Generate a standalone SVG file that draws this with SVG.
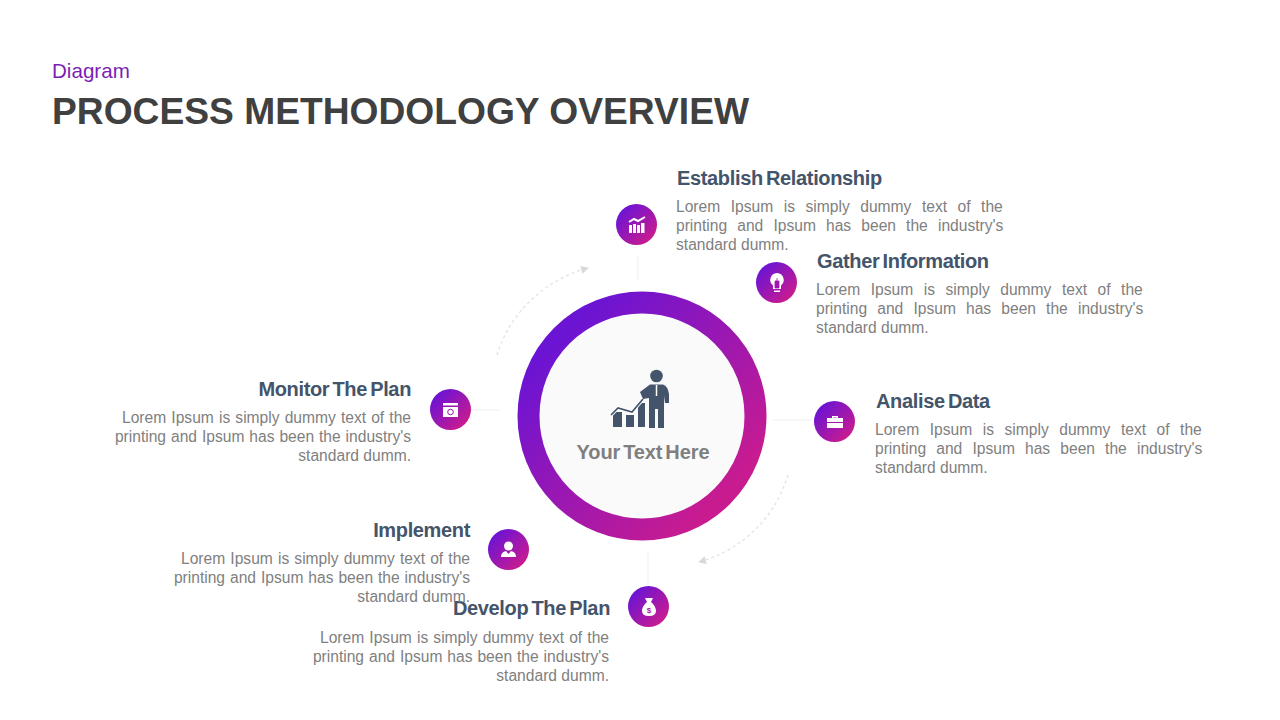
<svg xmlns="http://www.w3.org/2000/svg" width="1280" height="720" viewBox="0 0 1280 720">
<style>
text{font-family:"Liberation Sans",Arial,sans-serif}
.h{font-weight:700;font-size:20px;fill:#44546a;letter-spacing:-0.350px;word-spacing:-2px}
.b{font-size:15.6px;fill:#808080}
.e{text-anchor:end}
.w{fill:#fff}
.ws{fill:none;stroke:#fff}
.d{fill:#44546a}
.dc{fill:none;stroke:#e2e2e2;stroke-width:1.300;stroke-dasharray:3 3}
.l{fill:none;stroke:#f0f0f0;stroke-width:1}
</style>
<defs>
<linearGradient id="g" x1="0.15" y1="0.15" x2="0.85" y2="0.85"><stop offset="0" stop-color="#6c14d3"/><stop offset="1" stop-color="#c81b90"/></linearGradient>
<marker id="a" markerWidth="9" markerHeight="8" refX="7" refY="4" orient="auto" markerUnits="userSpaceOnUse"><path d="M0 0L8 4L0 8Z" fill="#d8d8d8"/></marker>
</defs>
<rect width="1280" height="720" fill="#fff"/>
<g id="title">
<text x="52" y="78" font-size="20.600" fill="#7a1fb4">Diagram</text>
<text x="52" y="124" font-size="37.200" font-weight="700" fill="#404040">PROCESS METHODOLOGY OVERVIEW</text>
</g>
<g id="connectors">
<path class="l" d="M638 255V281"/>
<path class="l" d="M470 410H500"/>
<path class="l" d="M772 420H812"/>
<path class="l" d="M648 552V585"/>
<path class="dc" marker-end="url(#a)" d="M497 355C510 312 545 280 588 268"/>
<path class="dc" marker-end="url(#a)" d="M788 475C775 518 742 550 699 562"/>
</g>
<g id="hub">
<circle cx="642" cy="416" r="113.500" fill="#fafafa" stroke="url(#g)" stroke-width="22"/>
<g id="hub-icon" class="d">
<circle cx="656.500" cy="376" r="6.300"/>
<path d="M640 392L650 384.500H663Q668 386 669 394L669 403H665L664 396V428H658V409H655V428H649V398L643 399Z"/>
<path d="M613 412H622V427H613ZM626 415H634V427H626ZM638 403H645V427H638Z"/>
<path d="M611 415L618 408L632 412L643 399" fill="none" stroke="#fff" stroke-width="3.500"/>
<path d="M611 415L618 408L632 412L643 399" fill="none" stroke="#44546a" stroke-width="1.700"/>
<path d="M656.500 385V396" stroke="#fff" stroke-width="1.500"/>
</g>
<text x="643" y="459" text-anchor="middle" font-size="20" font-weight="700" fill="#7f7f7f" letter-spacing="-0.100" word-spacing="-2.500">Your Text Here</text>
</g>
<g id="node-establish">
<circle cx="636.500" cy="224.500" r="20.500" fill="url(#g)"/>
<path class="w" d="M629 225h3v8h-3zM633 224h3v9h-3zM637 225h3v8h-3zM641 223h3.500v10h-3.500z"/>
<path class="ws" stroke-width="2" d="M629 222L634 219L638 221L645 217"/>
<text class="h" x="677" y="185">Establish Relationship</text>
<text class="b" x="676" y="212" word-spacing="6.200">Lorem Ipsum is simply dummy text of the</text>
<text class="b" x="676" y="231" word-spacing="5.800">printing and Ipsum has been the industry's</text>
<text class="b" x="676" y="250">standard dumm.</text>
</g>
<g id="node-gather">
<circle cx="776.500" cy="282.500" r="20.500" fill="url(#g)"/>
<path class="w" d="M777 273a7 7 0 0 1 4 12.500V289H773V285.500A7 7 0 0 1 777 273ZM774 290.500H780V292H774Z"/>
<path d="M777 278V288M775 281H779V288H775Z" fill="#a317ae" stroke="#a317ae" stroke-width="0.800"/>
<text class="h" x="817" y="268">Gather Information</text>
<text class="b" x="816" y="295" word-spacing="6.200">Lorem Ipsum is simply dummy text of the</text>
<text class="b" x="816" y="314" word-spacing="5.800">printing and Ipsum has been the industry's</text>
<text class="b" x="816" y="333">standard dumm.</text>
</g>
<g id="node-analise">
<circle cx="834.500" cy="421.500" r="20.500" fill="url(#g)"/>
<path class="w" d="M827 418H832V416H838V418H843V428H827ZM833.500 417.500V418H836.500V417.500Z"/>
<path d="M827 422.500H843" stroke="#a317ae" stroke-width="1"/>
<text class="h" x="876" y="408">Analise Data</text>
<text class="b" x="875" y="435" word-spacing="6.200">Lorem Ipsum is simply dummy text of the</text>
<text class="b" x="875" y="454" word-spacing="5.800">printing and Ipsum has been the industry's</text>
<text class="b" x="875" y="473">standard dumm.</text>
</g>
<g id="node-develop">
<circle cx="648.500" cy="606.500" r="20.500" fill="url(#g)"/>
<path class="w" d="M645 598H653L651 602C655 605 656 609 656 611Q656 616 649 616Q642 616 642 611C642 609 643 605 647 602Z"/>
<text x="649" y="613" text-anchor="middle" font-size="8" font-weight="700" fill="#a317ae">$</text>
<text class="h e" x="610" y="615">Develop The Plan</text>
<text class="b e" x="609" y="643" word-spacing="0.800">Lorem Ipsum is simply dummy text of the</text>
<text class="b e" x="609" y="662" word-spacing="0.600">printing and Ipsum has been the industry's</text>
<text class="b e" x="609" y="681">standard dumm.</text>
</g>
<g id="node-implement">
<circle cx="508.500" cy="549.500" r="20.500" fill="url(#g)"/>
<circle class="w" cx="508.500" cy="546" r="4.500"/>
<path class="w" d="M501 557Q501 552 506 551L508.500 554L511 551Q516 552 516 557Z"/>
<text class="h e" x="470" y="537">Implement</text>
<text class="b e" x="470" y="564" word-spacing="0.800">Lorem Ipsum is simply dummy text of the</text>
<text class="b e" x="470" y="583" word-spacing="0.600">printing and Ipsum has been the industry's</text>
<text class="b e" x="470" y="602">standard dumm.</text>
</g>
<g id="node-monitor">
<circle cx="450.500" cy="409.500" r="20.500" fill="url(#g)"/>
<path class="w" d="M443 403H458V405.500H443ZM443 407H458V417H443Z"/>
<circle cx="450.500" cy="412" r="2.800" fill="none" stroke="#a317ae" stroke-width="1"/>
<text class="h e" x="411" y="396">Monitor The Plan</text>
<text class="b e" x="411" y="423" word-spacing="0.800">Lorem Ipsum is simply dummy text of the</text>
<text class="b e" x="411" y="442" word-spacing="0.600">printing and Ipsum has been the industry's</text>
<text class="b e" x="411" y="461">standard dumm.</text>
</g>
</svg>
